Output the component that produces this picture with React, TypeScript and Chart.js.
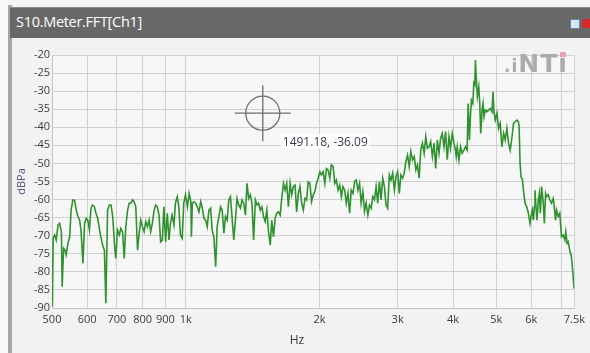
import React, { useEffect, useRef } from "react";
import { Chart, registerables } from "chart.js";

Chart.register(...registerables);

// ---- data ----
const FREQ_HZ = [
  501, 503, 507, 511, 516, 520, 525, 527, 531, 535, 538, 543, 548, 552, 557, 562, 567, 572, 577, 581,
  587, 592, 597, 602, 607, 612, 617, 623, 628, 634, 639, 644, 650, 656, 661, 667, 673, 679, 685, 691,
  696, 702, 709, 714, 721, 727, 733, 740, 746, 752, 759, 765, 772, 779, 785, 792, 799, 806, 813, 820,
  827, 834, 841, 849, 856, 863, 871, 878, 886, 893, 901, 909, 917, 924, 932, 941, 948, 957, 965, 973,
  982, 990, 999,
  1009, 1018, 1027, 1030, 1035, 1044, 1053, 1062, 1071, 1081, 1090, 1099, 1109, 1118, 1128, 1138, 1147, 1157, 1168, 1177,
  1188, 1198, 1208, 1219, 1229, 1240, 1250, 1261, 1272, 1283, 1294, 1305, 1316, 1328, 1339, 1351, 1363, 1374, 1386, 1398,
  1410, 1422, 1435, 1447, 1459, 1472, 1484, 1497, 1510, 1523, 1536, 1550, 1562, 1576, 1590, 1603, 1617, 1632, 1645, 1660,
  1674, 1688, 1703, 1718, 1732, 1747, 1763, 1777, 1793, 1808, 1824, 1840, 1856, 1871, 1887, 1904, 1920, 1937, 1954, 1970,
  1987, 2005, 2021,
  2039, 2057, 2074, 2092, 2111, 2128, 2147, 2166, 2184, 2203, 2222, 2241, 2260, 2280, 2299, 2319, 2339, 2359, 2380, 2401,
  2421, 2442, 2463, 2483, 2505, 2527, 2548, 2571, 2593, 2615, 2638, 2661, 2683, 2706, 2730, 2753, 2777, 2801, 2825, 2849,
  2874, 2898, 2924, 2950, 2974, 3000, 3026, 3051, 3078, 3105, 3131, 3158, 3186, 3213, 3241, 3270, 3297, 3325, 3354, 3382,
  3412, 3442, 3471, 3501, 3532, 3561, 3592, 3624, 3654, 3686, 3718, 3749, 3782, 3815, 3847, 3881, 3915, 3947, 3982, 4017,
  4050,
  4065, 4086, 4122, 4156, 4192, 4229, 4264, 4302, 4324, 4353, 4375, 4398, 4430, 4453, 4476, 4490, 4513, 4536, 4569, 4592,
  4616, 4647, 4671, 4695, 4727, 4768, 4810, 4850, 4893, 4918, 4943, 4977, 5020, 5064, 5106, 5151, 5197, 5240, 5285, 5332,
  5376, 5423, 5471, 5516, 5564, 5613, 5631, 5660, 5689, 5730, 5760, 5808, 5858, 5910, 5959, 5990, 6033, 6064, 6096, 6115,
  6146, 6177, 6222, 6254, 6287, 6329, 6385, 6418, 6461, 6494, 6551, 6605, 6663, 6722, 6757, 6802, 6837, 6897, 6954, 7015,
  7077, 7136, 7173, 7224, 7261, 7321, 7386, 7424, 7462, 7490,
];

const LEVEL_DBPA = [
  -89.6, -70.7, -69.8, -71.2, -67.0, -66.6, -68.9, -84.1, -73.5, -74.0, -75.3, -72.1, -70.3, -62.9, -60.1, -60.1, -62.9, -64.7, -65.7, -68.4,
  -77.6, -66.6, -65.2, -65.7, -68.4, -62.4, -61.5, -62.0, -63.8, -65.2, -68.0, -70.3, -72.6, -74.0, -88.7, -62.9, -61.5, -61.5, -64.7, -72.1,
  -76.3, -68.4, -69.8, -68.0, -68.9, -76.3, -67.5, -62.9, -61.0, -61.0, -60.1, -60.6, -62.0, -74.0, -69.8, -65.7, -67.5, -68.9, -66.1, -67.5,
  -65.7, -68.9, -66.6, -62.9, -61.5, -62.0, -64.3, -71.7, -71.2, -62.0, -71.7, -63.8, -71.2, -66.6, -64.3, -67.0, -61.0, -59.2, -62.0, -69.8,
  -70.7, -61.0, -58.7,
  -62.0, -58.3, -60.6, -70.3, -61.0, -60.6, -61.0, -62.0, -63.4, -60.6, -62.4, -65.2, -65.7, -67.5, -62.9, -62.4, -68.4, -70.3, -78.6, -67.5,
  -64.7, -62.0, -62.9, -69.3, -64.7, -65.7, -60.1, -59.2, -65.2, -71.2, -65.7, -59.7, -61.5, -62.4, -60.1, -61.0, -64.3, -55.5, -59.7, -58.7,
  -61.0, -71.2, -60.1, -61.5, -61.0, -62.9, -62.0, -64.7, -66.1, -62.9, -68.9, -72.6, -65.7, -70.3, -65.2, -63.8, -63.4, -64.3, -59.7, -55.5,
  -57.4, -55.5, -62.0, -55.5, -58.7, -56.4, -56.0, -63.4, -58.3, -56.4, -61.0, -62.9, -59.7, -60.1, -55.1, -55.5, -60.6, -58.7, -57.8, -55.5,
  -54.1, -52.3, -53.2,
  -52.3, -55.5, -51.4, -51.8, -54.1, -50.4, -50.9, -55.5, -54.6, -57.4, -56.0, -59.2, -56.4, -57.4, -61.0, -58.3, -63.8, -57.4, -58.3, -55.0,
  -54.6, -57.4, -55.5, -61.0, -57.8, -63.3, -61.0, -64.3, -61.5, -62.4, -59.2, -60.1, -56.4, -61.0, -55.0, -60.1, -54.1, -56.4, -61.5, -62.4,
  -53.2, -54.6, -52.7, -57.4, -53.7, -52.3, -58.3, -53.2, -54.1, -52.7, -49.5, -47.7, -50.9, -46.7, -49.0, -48.1, -51.8, -50.4, -54.1, -46.3,
  -44.4, -47.2, -42.6, -45.8, -45.4, -44.0, -48.1, -44.4, -51.4, -43.5, -47.2, -43.1, -41.7, -45.4, -41.2, -49.0, -42.6, -45.8, -41.7, -44.4,
  -46.3,
  -48.1, -45.4, -49.1, -45.4, -47.2, -46.3, -45.4, -46.3, -33.4, -43.5, -37.1, -32.5, -33.4, -27.8, -28.3, -21.4, -26.9, -31.5, -28.8, -33.4,
  -41.7, -35.2, -33.4, -37.1, -35.2, -35.7, -35.2, -34.8, -35.7, -30.2, -35.7, -38.0, -36.1, -40.3, -38.9, -45.4, -41.7, -43.5, -40.3, -44.4,
  -46.3, -43.1, -38.9, -38.5, -38.0, -38.5, -39.8, -50.0, -53.7, -54.6, -57.4, -61.0, -62.0, -63.8, -66.6, -64.7, -62.9, -65.7, -62.0, -57.4,
  -62.0, -65.7, -60.1, -58.3, -63.8, -56.4, -61.0, -66.6, -58.3, -59.2, -58.7, -60.1, -61.0, -59.7, -62.0, -65.7, -62.9, -64.7, -63.8, -70.3,
  -69.8, -71.2, -68.9, -72.1, -71.7, -74.0, -75.8, -78.6, -82.3, -84.6,
];

const X_TICKS = [500, 600, 700, 800, 900, 1000, 2000, 3000, 4000, 5000, 6000, 7000, 7500];
const X_TICK_LABELS = ["500", "600", "700", "800", "900", "1k", "2k", "3k", "4k", "5k", "6k", "", "7.5k"];
const Y_TICKS = [-90, -85, -80, -75, -70, -65, -60, -55, -50, -45, -40, -35, -30, -25, -20];

const CURSOR_X = 1491.18;
const CURSOR_Y = -36.09;
const CURSOR_TEXT = "1491.18, -36.09";

const WINDOW_TITLE = "S10.Meter.FFT[Ch1]";
const X_TITLE = "Hz";
const Y_TITLE = "dBPa";

const FONT = "'Open Sans', 'DejaVu Sans', sans-serif";

export default function App() {
  const canvasRef = useRef<HTMLCanvasElement | null>(null);

  useEffect(() => {
    if (!canvasRef.current) return;
    const points = FREQ_HZ.map((f, i) => ({ x: f, y: LEVEL_DBPA[i] }));

    const bgPlugin = {
      id: "plotBg",
      beforeDraw(chart: any) {
        const { ctx, chartArea } = chart;
        ctx.save();
        ctx.fillStyle = "#f7f7f7";
        ctx.fillRect(chartArea.left, chartArea.top, chartArea.right - chartArea.left, chartArea.bottom - chartArea.top);
        ctx.restore();
      },
    };

    const cursorPlugin = {
      id: "cursor",
      afterDatasetsDraw(chart: any) {
        const { ctx, scales } = chart;
        const cx = scales.x.getPixelForValue(CURSOR_X);
        const cy = scales.y.getPixelForValue(CURSOR_Y);
        ctx.save();
        ctx.strokeStyle = "#6e6e6e";
        ctx.lineWidth = 1.3;
        ctx.beginPath();
        ctx.arc(cx, cy, 17, 0, Math.PI * 2);
        ctx.stroke();
        ctx.beginPath();
        ctx.moveTo(cx - 28, cy);
        ctx.lineTo(cx + 28, cy);
        ctx.moveTo(cx, cy - 28);
        ctx.lineTo(cx, cy + 28);
        ctx.stroke();
        ctx.font = "12px " + FONT;
        ctx.textBaseline = "middle";
        const tw = ctx.measureText(CURSOR_TEXT).width;
        ctx.fillStyle = "rgba(255,255,255,0.85)";
        ctx.fillRect(cx + 18, cy + 21, tw + 4, 15);
        ctx.fillStyle = "#3c3c4a";
        ctx.fillText(CURSOR_TEXT, cx + 20, cy + 29);
        ctx.restore();
      },
    };

    const chart = new Chart(canvasRef.current, {
      type: "line",
      data: {
        datasets: [
          {
            data: points,
            borderColor: "#2f922f",
            borderWidth: 1.6,
            pointRadius: 0,
            tension: 0,
            fill: false,
          },
        ],
      },
      options: {
        animation: false,
        responsive: false,
        maintainAspectRatio: false,
        parsing: false as any,
        layout: { padding: { left: 0, top: 17, right: 12, bottom: 0 } },
        plugins: { legend: { display: false }, tooltip: { enabled: false } },
        scales: {
          x: {
            type: "logarithmic",
            min: 500,
            max: 7500,
            afterBuildTicks: (s: any) => {
              s.ticks = X_TICKS.map((v) => ({ value: v }));
            },
            afterFit: (s: any) => {
              s.height = 45;
            },
            ticks: {
              autoSkip: false,
              maxRotation: 0,
              minRotation: 0,
              padding: 5,
              color: "#3a3a3a",
              font: { family: FONT, size: 11 },
              callback: (v: any) => {
                const i = X_TICKS.indexOf(Number(v));
                return i >= 0 ? X_TICK_LABELS[i] : "";
              },
            },
            grid: { color: "#d0d0d0", lineWidth: 1, drawTicks: false },
            border: { display: true, color: "#c4c4c4" },
            title: { display: false },
          },
          y: {
            min: -90,
            max: -20,
            afterBuildTicks: (s: any) => {
              s.ticks = Y_TICKS.map((v) => ({ value: v }));
            },
            afterFit: (s: any) => {
              s.width = 40;
            },
            ticks: {
              autoSkip: false,
              padding: 2,
              color: "#3a3a3a",
              font: { family: FONT, size: 11 },
            },
            grid: { color: "#d0d0d0", lineWidth: 1, drawTicks: false },
            border: { display: true, color: "#c4c4c4" },
            title: {
              display: true,
              text: Y_TITLE,
              color: "#5a4f8a",
              font: { family: FONT, size: 11 },
              padding: { top: 3, bottom: 0 },
            },
          },
        },
      },
      plugins: [bgPlugin, cursorPlugin],
    });
    return () => chart.destroy();
  }, []);

  return (
    <div
      style={{
        position: "fixed",
        left: 0,
        top: 0,
        width: 590,
        height: 353,
        background: "#f2f2f2",
        overflow: "hidden",
        fontFamily: FONT,
      }}
    >
      <div style={{ position: "absolute", left: 0, top: 0, width: 590, height: 6, background: "#f4f4f4" }} />
      <div style={{ position: "absolute", left: 0, top: 0, width: 8, height: 353, background: "#f8f8f8" }} />
      <div style={{ position: "absolute", left: 8, top: 5, width: 4, height: 348, background: "#a6a6a6" }} />
      <div
        style={{
          position: "absolute",
          left: 10,
          top: 7,
          width: 580,
          height: 31,
          background: "#686868",
          borderTop: "1px solid #8a8a8a",
          boxSizing: "border-box",
        }}
      >
        <span
          style={{
            position: "absolute",
            left: 6,
            top: 5,
            color: "#ffffff",
            fontSize: 14.5,
            lineHeight: "18px",
            letterSpacing: -0.3,
            whiteSpace: "nowrap",
          }}
        >
          {WINDOW_TITLE}
        </span>
        <div style={{ position: "absolute", left: 560, top: 11, width: 8, height: 8, background: "#d8e6f2", border: "1px solid #5b87b5" }} />
        <div style={{ position: "absolute", left: 572, top: 11, width: 9, height: 9, background: "#d42a2a" }} />
      </div>
      <canvas
        ref={canvasRef}
        width={578}
        height={315}
        style={{ position: "absolute", left: 12, top: 38, width: 578, height: 315 }}
      />
      <div
        style={{
          position: "absolute",
          left: 287,
          top: 332,
          width: 20,
          textAlign: "center",
          color: "#3a3a3a",
          fontSize: 12,
          lineHeight: "16px",
        }}
      >
        {X_TITLE}
      </div>
      <div
        style={{
          position: "absolute",
          left: 504,
          top: 50,
          color: "#acacac",
          fontFamily: "'DejaVu Sans', sans-serif",
          fontWeight: 700,
          whiteSpace: "nowrap",
          lineHeight: "28px",
          letterSpacing: 1,
        }}
      >
        <span style={{ fontSize: 17 }}>.i</span>
        <span style={{ fontSize: 25 }}>NT</span>
        <span style={{ fontSize: 25, position: "relative" }}>
          ı
          <span style={{ position: "absolute", left: 2, top: 3, width: 6, height: 5, background: "#e7a2b6" }} />
        </span>
      </div>
    </div>
  );
}
